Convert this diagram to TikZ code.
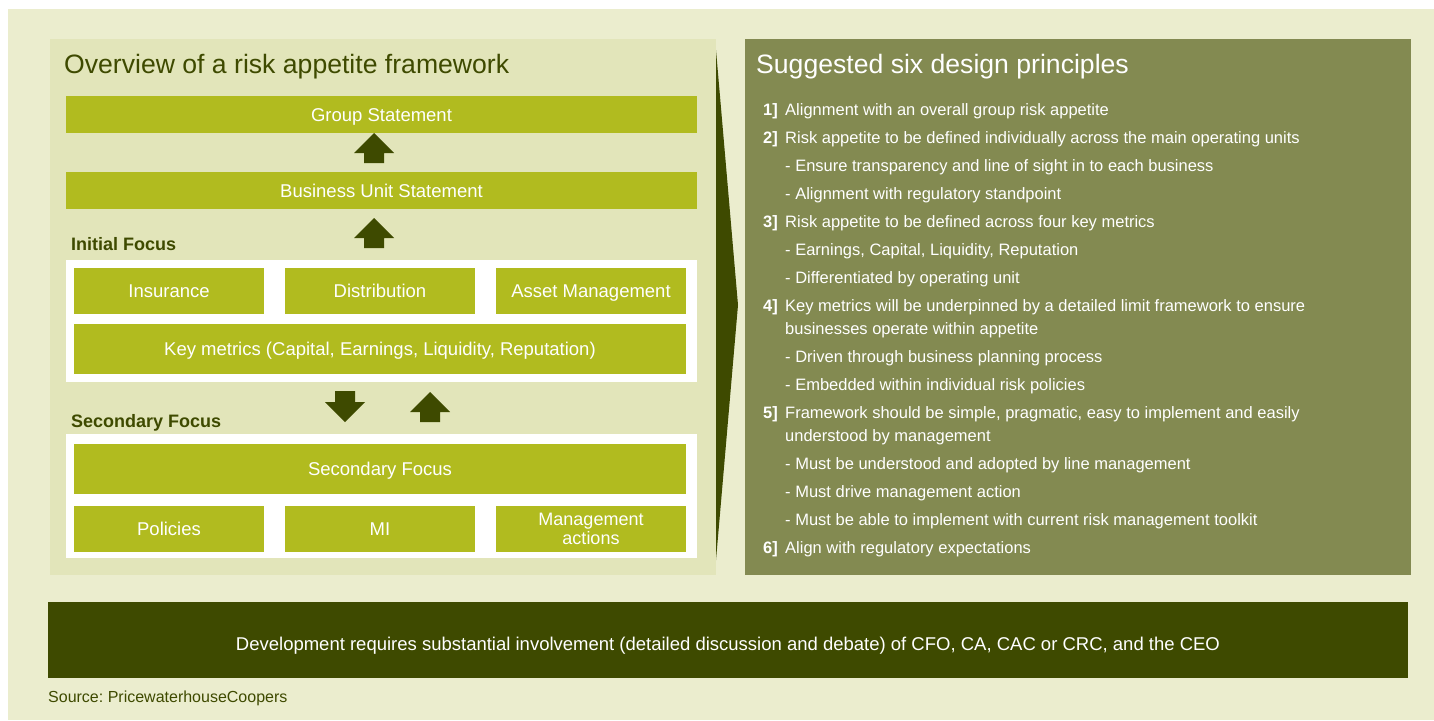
\documentclass[tikz,border=0pt]{standalone}
\usepackage{fontspec}
\setmainfont{Liberation Sans}
\frenchspacing
\definecolor{pagebg}{HTML}{EBEDCE}
\definecolor{panelbg}{HTML}{E2E5BA}
\definecolor{barcol}{HTML}{B1BB1F}
\definecolor{darkol}{HTML}{3E4A00}
\definecolor{rightbg}{HTML}{838A51}
\tikzset{
  bar/.style={fill=barcol, draw=none, text=white, inner sep=0pt, align=center,
    font=\fontsize{18.5}{20}\selectfont, text height=13.2pt, text depth=0pt},
  twoline/.style={font=\fontsize{18}{19.5}\selectfont, text height=, text depth=},
  holder/.style={fill=white, draw=none, inner sep=0pt},
  head/.style={text=darkol, font=\fontsize{18}{20}\selectfont\bfseries, anchor=base west, inner sep=0pt},
  ptitle/.style={font=\fontsize{26.6}{30}\selectfont, anchor=base west, inner sep=0pt},
  num/.style={text=white, font=\fontsize{16.5}{18}\selectfont\bfseries, anchor=base west, inner sep=0pt},
  item/.style={text=white, font=\fontsize{16.5}{18}\selectfont, anchor=base west, inner sep=0pt},
  blockarrow/.style={fill=darkol, draw=none},
  pics/uparrow/.style={code={
    \fill[blockarrow] (-20,20) -- (0,0) -- (20,20) -- (10,20) -- (10,30) -- (-10,30) -- (-10,20) -- cycle;}},
  pics/downarrow/.style={code={
    \fill[blockarrow] (-10,0) -- (10,0) -- (10,11) -- (20,11) -- (0,31) -- (-20,11) -- (-10,11) -- cycle;}}
}
\begin{document}
\begin{tikzpicture}[x=1pt,y=-1pt]
\useasboundingbox (0,0) rectangle (1434,720);
% page background
\fill[pagebg] (8,9) rectangle (1434,720);
% panels
\fill[panelbg] (50,39) rectangle (716,575);
\fill[rightbg] (745,39) rectangle (1411,575);
% chevron between the panels
\fill[darkol] (716,50) -- (738,305) -- (716,560) -- cycle;

% left panel
\node[ptitle, text=darkol] (ltitle) at (64,73) {Overview of a risk appetite framework};
\node[bar, minimum width=631, minimum height=37] (group) at (381.5,114.5) {Group Statement};
\pic at (374,133) {uparrow};
\node[bar, minimum width=631, minimum height=37] (bu) at (381.5,190.5) {Business Unit Statement};
\pic at (374,218) {uparrow};
\node[head] (init) at (71,250) {Initial Focus};
\node[holder, minimum width=631, minimum height=122] (box1) at (381.5,321) {};
\node[bar, minimum width=190, minimum height=46] (ins) at (169,291) {Insurance};
\node[bar, minimum width=190, minimum height=46] (dist) at (380,291) {Distribution};
\node[bar, minimum width=190, minimum height=46] (am) at (591,291) {Asset Management};
\node[bar, minimum width=612, minimum height=50] (km) at (380,349) {Key metrics (Capital, Earnings, Liquidity, Reputation)};
\pic at (345,391) {downarrow};
\pic at (430,392) {uparrow};
\node[head] (sec) at (71,427) {Secondary Focus};
\node[holder, minimum width=631, minimum height=124] (box2) at (381.5,496) {};
\node[bar, minimum width=612, minimum height=50] (sf) at (380,469) {Secondary Focus};
\node[bar, minimum width=190, minimum height=46] (pol) at (169,528.5) {Policies};
\node[bar, minimum width=190, minimum height=46] (mi) at (380,528.5) {MI};
\node[bar, twoline, minimum width=190, minimum height=46] (ma) at (591,529) {Management\\actions};

% right panel
\node[ptitle, text=white] (rtitle) at (756,73) {Suggested six design principles};
\node[num] (n1) at (763,115.5) {1]};
\node[item] (t1) at (785,115.5) {Alignment with an overall group risk appetite};
\node[num] (n2) at (763,143.5) {2]};
\node[item] (t2) at (785,143.5) {Risk appetite to be defined individually across the main operating units};
\node[item] (t2a) at (785,171.5) {- Ensure transparency and line of sight in to each business};
\node[item] (t2b) at (785,199.5) {- Alignment with regulatory standpoint};
\node[num] (n3) at (763,227.5) {3]};
\node[item] (t3) at (785,227.5) {Risk appetite to be defined across four key metrics};
\node[item] (t3a) at (785,255.5) {- Earnings, Capital, Liquidity, Reputation};
\node[item] (t3b) at (785,283.5) {- Differentiated by operating unit};
\node[num] (n4) at (763,311.5) {4]};
\node[item] (t4) at (785,311.5) {Key metrics will be underpinned by a detailed limit framework to ensure};
\node[item] (t4c) at (785,334.5) {businesses operate within appetite};
\node[item] (t4a) at (785,362.5) {- Driven through business planning process};
\node[item] (t4b) at (785,390.5) {- Embedded within individual risk policies};
\node[num] (n5) at (763,418.5) {5]};
\node[item] (t5) at (785,418.5) {Framework should be simple, pragmatic, easy to implement and easily};
\node[item] (t5c) at (785,441.5) {understood by management};
\node[item] (t5a) at (785,469.5) {- Must be understood and adopted by line management};
\node[item] (t5b) at (785,497.5) {- Must drive management action};
\node[item] (t5d) at (785,525.5) {- Must be able to implement with current risk management toolkit};
\node[num] (n6) at (763,553.5) {6]};
\node[item] (t6) at (785,553.5) {Align with regulatory expectations};

% bottom banner
\node[fill=darkol, minimum width=1360, minimum height=76, inner sep=0pt, text=white,
  font=\fontsize{18.5}{20}\selectfont, text height=20pt, text depth=0pt] (dev) at (728,640)
  {Development requires substantial involvement (detailed discussion and debate) of CFO, CA, CAC or CRC, and the CEO};
\node[anchor=base west, inner sep=0pt, text=darkol, font=\fontsize{16}{18}\selectfont] (src) at (48,702) {Source: PricewaterhouseCoopers};
\end{tikzpicture}
\end{document}
